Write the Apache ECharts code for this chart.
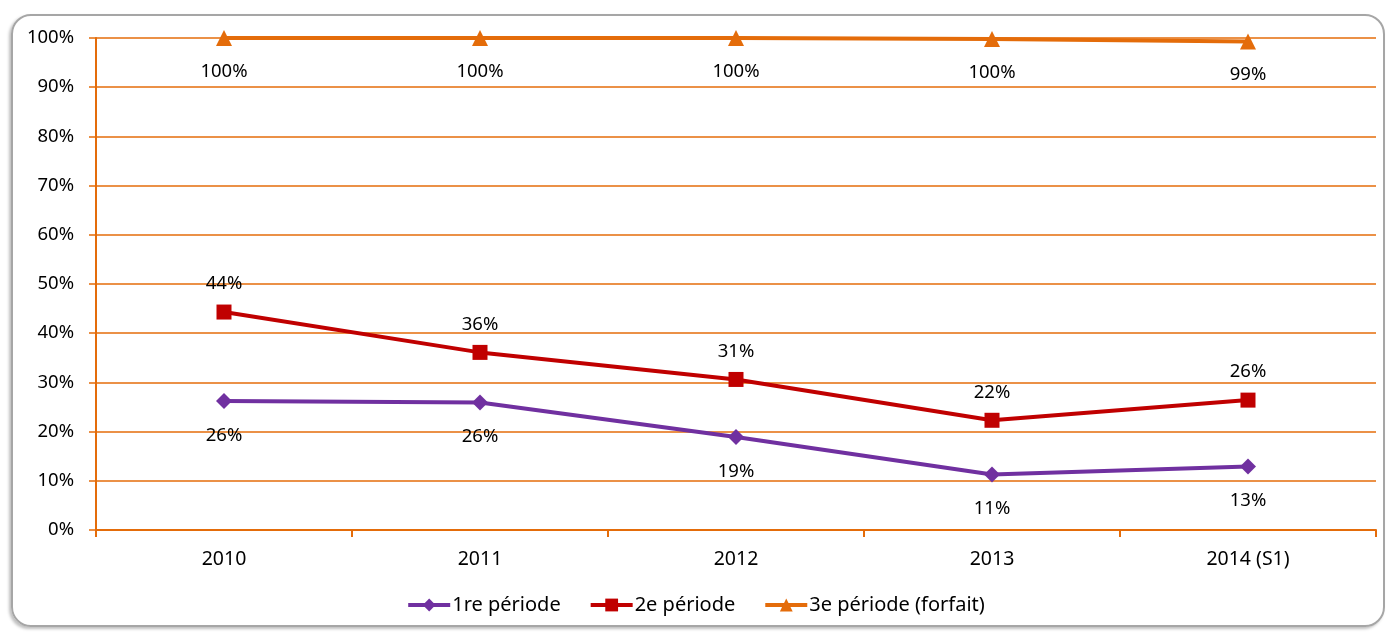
<!DOCTYPE html>
<html>
<head>
<meta charset="utf-8">
<style>
  html, body { margin: 0; padding: 0; background: #ffffff; }
  #frame {
    position: absolute; left: 11px; top: 14px; width: 1374px; height: 613px;
    border: 2px solid #a6a6a6; border-radius: 20px; box-sizing: border-box;
    box-shadow: -2px 2px 3px rgba(0,0,0,0.25);
  }
  #chart { position: absolute; left: 0; top: 0; width: 1391px; height: 632px; }
</style>
<script src="https://cdn.jsdelivr.net/npm/echarts@6/dist/echarts.min.js"></script>
</head>
<body>
<div id="frame"></div>
<div id="chart"></div>
<script>
// Years shown on the category axis
const categories = ['2010', '2011', '2012', '2013', '2014 (S1)'];

// Share per period, in percent
const periode1 = [26.2, 25.9, 18.9, 11.3, 12.9];
const periode2 = [44.3, 36.1, 30.6, 22.3, 26.4];
const periode3 = [100, 100, 100, 99.8, 99.3];

const seriesNames = ['1re période', '2e période', '3e période (forfait)'];
const yTicks = [0, 10, 20, 30, 40, 50, 60, 70, 80, 90, 100];

const AXIS_ORANGE = '#E46C0A';
const FONT = 'Noto Sans';
const FONT_SIZE = 18.5;

const chart = echarts.init(document.getElementById('chart'), null, { renderer: 'canvas' });

function lineSeries(name, data, color, symbol, size, labelPos, labelDist) {
  return {
    name: name,
    type: 'line',
    data: data,
    symbol: symbol,
    symbolSize: size,
    z: 3,
    lineStyle: { color: color, width: 4 },
    itemStyle: { color: color },
    label: {
      show: true,
      position: labelPos,
      distance: labelDist,
      color: '#000000',
      fontFamily: FONT,
      fontSize: FONT_SIZE,
      formatter: p => Math.round(p.value) + '%'
    },
    emphasis: { disabled: true },
    animation: false
  };
}

chart.setOption({
  animation: false,
  grid: { left: 96, right: 15, top: 38, bottom: 102, containLabel: false },
  legend: {
    bottom: 12,
    left: 'center',
    itemWidth: 42,
    itemHeight: 16,
    itemGap: 28,
    lineStyle: { width: 4 },
    textStyle: { color: '#000000', fontFamily: FONT, fontSize: 20, padding: [0, 0, 0, -3] },
    data: seriesNames
  },
  xAxis: {
    type: 'category',
    data: categories,
    boundaryGap: true,
    axisLine: { lineStyle: { color: AXIS_ORANGE, width: 2 } },
    axisTick: { show: true, length: 7, lineStyle: { color: AXIS_ORANGE, width: 2 } },
    axisLabel: { color: '#000000', fontFamily: FONT, fontSize: 19.5, margin: 19 }
  },
  yAxis: {
    type: 'value',
    min: 0,
    max: 100,
    interval: 10,
    axisLine: { show: true, lineStyle: { color: AXIS_ORANGE, width: 2 } },
    axisTick: { show: true, length: 7, lineStyle: { color: AXIS_ORANGE, width: 1.5 } },
    splitLine: { show: true, lineStyle: { color: AXIS_ORANGE, width: 1.5 } },
    axisLabel: {
      color: '#000000', fontFamily: FONT, fontSize: FONT_SIZE, margin: 22,
      formatter: v => (yTicks.indexOf(v) >= 0 ? v + '%' : '')
    }
  },
  series: [
    lineSeries(seriesNames[0], periode1, '#7030A0', 'diamond', 16, 'bottom', 17),
    lineSeries(seriesNames[1], periode2, '#C00000', 'rect', 15, 'top', 11),
    lineSeries(seriesNames[2], periode3, '#E46C0A', 'triangle', 16, 'bottom', 16)
  ]
});
</script>
</body>
</html>
